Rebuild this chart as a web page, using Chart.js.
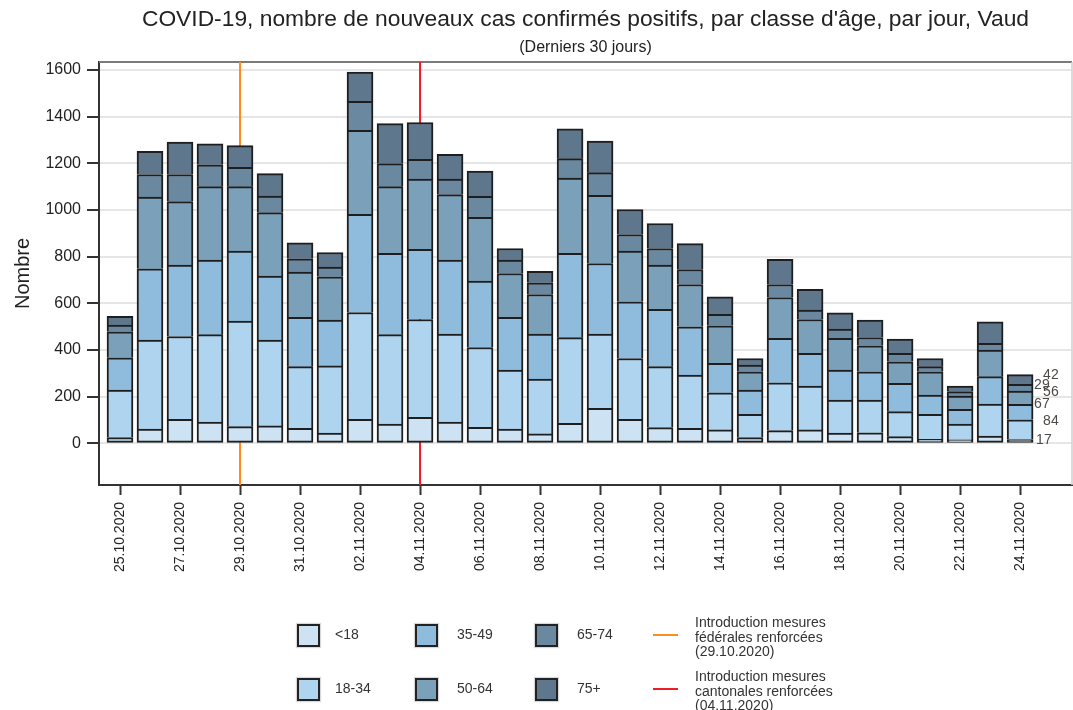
<!DOCTYPE html>
<html lang="fr">
<head>
<meta charset="utf-8">
<title>COVID-19 Vaud — cas par classe d'âge</title>
<script src="https://cdn.jsdelivr.net/npm/chart.js@4.4.0/dist/chart.umd.min.js"></script>
<style>
  body { margin: 0; background: #fff; font-family: "Liberation Sans", Arial, sans-serif; color: #222; }
  #wrap { position: relative; width: 1073px; height: 710px; overflow: hidden; }
  #wrap canvas { position: absolute; left: 0; top: 0; }
  .title { position: absolute; left: 99px; width: 973px; text-align: center; white-space: nowrap; }
  #t1 { top: 5px; font-size: 22.8px; line-height: 26px; }
  #t2 { top: 38px; font-size: 16px; line-height: 18px; }
  .lg { position: absolute; font-size: 14px; line-height: 14.5px; color: #333; white-space: nowrap; }
  .sq { position: absolute; width: 19px; height: 19px; border: 2px solid #222; box-shadow: 0 0 1px 1px rgba(0,0,0,0.15); }
  .ln { position: absolute; width: 25px; height: 2px; }
</style>
</head>
<body>
<div id="wrap">
  <canvas id="chart" width="1073" height="710"></canvas>
  <div class="title" id="t1">COVID-19, nombre de nouveaux cas confirmés positifs, par classe d'âge, par jour, Vaud</div>
  <div class="title" id="t2">(Derniers 30 jours)</div>
  <div id="legend"></div>
</div>
<script>
/* Vaud — nouveaux cas par classe d'âge, 30 derniers jours */

const dates = [
  "25.10.2020", "26.10.2020", "27.10.2020", "28.10.2020", "29.10.2020", "30.10.2020", "31.10.2020",
  "01.11.2020", "02.11.2020", "03.11.2020", "04.11.2020", "05.11.2020", "06.11.2020", "07.11.2020",
  "08.11.2020", "09.11.2020", "10.11.2020", "11.11.2020", "12.11.2020", "13.11.2020", "14.11.2020",
  "15.11.2020", "16.11.2020", "17.11.2020", "18.11.2020", "19.11.2020", "20.11.2020", "21.11.2020",
  "22.11.2020", "23.11.2020", "24.11.2020",
];
const tickLabels = [
  "25.10.2020", "27.10.2020", "29.10.2020", "31.10.2020", "02.11.2020", "04.11.2020", "06.11.2020",
  "08.11.2020", "10.11.2020", "12.11.2020", "14.11.2020", "16.11.2020", "18.11.2020", "20.11.2020",
  "22.11.2020", "24.11.2020",
];
const yTicks = [0, 200, 400, 600, 800, 1000, 1200, 1400, 1600];

const ageGroups = ["<18", "18-34", "35-49", "50-64", "65-74", "75+"];
const casesU18   = [25, 62, 103, 91, 72, 75, 65, 44, 103, 83, 112, 91, 69, 62, 41, 86, 150, 103, 68, 65, 58, 25, 55, 58, 44, 46, 29, 18, 15, 32, 17];
const cases18_34 = [204, 381, 355, 375, 452, 368, 264, 288, 458, 383, 419, 377, 342, 252, 235, 367, 318, 261, 261, 228, 159, 100, 205, 188, 142, 140, 107, 107, 68, 137, 84];
const cases35_49 = [138, 305, 306, 319, 300, 274, 211, 196, 421, 348, 301, 317, 284, 226, 192, 361, 303, 243, 245, 207, 126, 104, 190, 140, 128, 121, 121, 82, 63, 117, 67];
const cases50_64 = [111, 307, 272, 315, 276, 272, 194, 186, 359, 286, 301, 281, 274, 188, 170, 323, 292, 217, 190, 181, 161, 78, 175, 145, 136, 111, 93, 100, 57, 114, 56];
const cases65_74 = [29, 97, 116, 94, 83, 71, 57, 41, 124, 99, 84, 66, 90, 57, 50, 83, 97, 71, 71, 64, 49, 29, 56, 40, 40, 36, 36, 22, 19, 29, 29];
const cases75p   = [38, 99, 139, 90, 93, 96, 68, 63, 126, 171, 158, 106, 108, 50, 49, 128, 135, 107, 107, 111, 75, 28, 108, 89, 70, 74, 61, 35, 24, 92, 42];

const eventDates  = ["29.10.2020", "04.11.2020"];
const eventLabels = [
  ["Introduction mesures", "fédérales renforcées", "(29.10.2020)"],
  ["Introduction mesures", "cantonales renforcées", "(04.11.2020)"],
];

const series = [casesU18, cases18_34, cases35_49, cases50_64, cases65_74, cases75p];
const ageColors = ["#cde3f4", "#afd4ef", "#8fbcdd", "#7aa0ba", "#6a88a0", "#5f778c"];
const eventColors = ["#ff8c1a", "#ee1c25"];
const FONT = "'Liberation Sans', Arial, sans-serif";

// small nudges for the value labels next to the last bar (x from bar edge, y from segment middle)
const lastLabelDx = [3, 10, 1, 10, 1, 10];
const lastLabelDy = [-1, -9, -8, -6, -3, -4];

const extras = {
  id: "extras",
  beforeDatasetsDraw(chart) {
    const { ctx, chartArea: a, scales: { x } } = chart;
    ctx.save();
    // frame top / right
    ctx.strokeStyle = "#7a7a7a"; ctx.lineWidth = 2;
    ctx.beginPath(); ctx.moveTo(a.left, a.top); ctx.lineTo(a.right, a.top); ctx.stroke();
    ctx.strokeStyle = "#cfcfcf"; ctx.lineWidth = 1.5;
    ctx.beginPath(); ctx.moveTo(a.right, a.top); ctx.lineTo(a.right, a.bottom); ctx.stroke();
    // event lines (behind bars)
    eventDates.forEach((d, i) => {
      const px = x.getPixelForValue(dates.indexOf(d));
      ctx.strokeStyle = eventColors[i]; ctx.lineWidth = 2;
      ctx.beginPath(); ctx.moveTo(px, a.top); ctx.lineTo(px, a.bottom); ctx.stroke();
    });
    ctx.restore();
  },
  afterDatasetsDraw(chart) {
    const { ctx } = chart;
    const idx = dates.length - 1;
    ctx.save();
    ctx.font = `14px ${FONT}`;
    ctx.fillStyle = "#4d4a47";
    ctx.textAlign = "left"; ctx.textBaseline = "middle";
    series.forEach((s, i) => {
      const el = chart.getDatasetMeta(i).data[idx];
      const right = el.x + el.width / 2;
      const mid = (el.y + el.base) / 2;
      ctx.fillText(String(s[idx]), right + lastLabelDx[i], mid + lastLabelDy[i]);
    });
    ctx.restore();
  },
};

new Chart(document.getElementById("chart"), {
  type: "bar",
  data: {
    datasets: series.map((s, i) => ({
      label: ageGroups[i],
      data: s.map((v, j) => ({ x: j, y: v })),
      backgroundColor: ageColors[i],
      borderColor: "#1e1e1e",
      borderWidth: 2,
      borderSkipped: i === 0 ? false : "start",
      barThickness: 26,
    })),
  },
  options: {
    responsive: false, animation: false,
    layout: { padding: { top: 62, right: 1, bottom: 0, left: 0 } },
    plugins: { legend: { display: false }, tooltip: { enabled: false } },
    scales: {
      x: {
        type: "linear", stacked: true, min: -0.7, max: 31.73, offset: false,
        afterBuildTicks: s => { s.ticks = tickLabels.map(t => ({ value: dates.indexOf(t) })); },
        afterFit: s => { s.height = 225; },
        ticks: { autoSkip: false, maxRotation: 90, minRotation: 90, padding: 7, color: "#222",
                 font: { family: FONT, size: 14 }, callback: v => dates[v] },
        grid: { offset: false, drawOnChartArea: false, tickLength: 10, tickColor: "#333", tickWidth: 2 },
        border: { color: "#333", width: 2 },
      },
      y: {
        stacked: true, min: -178, max: 1634,
        afterBuildTicks: s => { s.ticks = yTicks.map(v => ({ value: v })); },
        afterFit: s => { s.width = 99; },
        ticks: { padding: 6, color: "#222", font: { family: FONT, size: 16 }, callback: v => String(v) },
        grid: { color: "#e6e6e6", lineWidth: 2, tickLength: 12, tickColor: "#333", tickWidth: 2 },
        border: { color: "#333", width: 2 },
        title: { display: true, text: "Nombre", color: "#222", font: { family: FONT, size: 20 }, padding: { top: 11, bottom: 0 } },
      },
    },
  },
  plugins: [extras],
});

// Legend (3 columns x 2 rows for age groups, then the two event lines)
const legend = document.getElementById("legend");
const colX = [297, 415, 535], textX = [335, 457, 577], rowY = [635, 689];
ageGroups.forEach((g, i) => {
  const col = Math.floor(i / 2), row = i % 2;
  const sq = document.createElement("div");
  sq.className = "sq";
  sq.style.cssText = `left:${colX[col]}px;top:${rowY[row] - 11}px;background:${ageColors[i]}`;
  legend.appendChild(sq);
  const t = document.createElement("div");
  t.className = "lg";
  t.style.cssText = `left:${textX[col]}px;top:${rowY[row] - 8}px`;
  t.textContent = g;
  legend.appendChild(t);
});
eventLabels.forEach((lines, i) => {
  const ln = document.createElement("div");
  ln.className = "ln";
  ln.style.cssText = `left:653px;top:${rowY[i] - 1}px;background:${eventColors[i]}`;
  legend.appendChild(ln);
  const t = document.createElement("div");
  t.className = "lg";
  t.style.cssText = `left:695px;top:${rowY[i] - 20}px`;
  t.innerHTML = lines.join("<br>");
  legend.appendChild(t);
});
</script>
</body>
</html>
